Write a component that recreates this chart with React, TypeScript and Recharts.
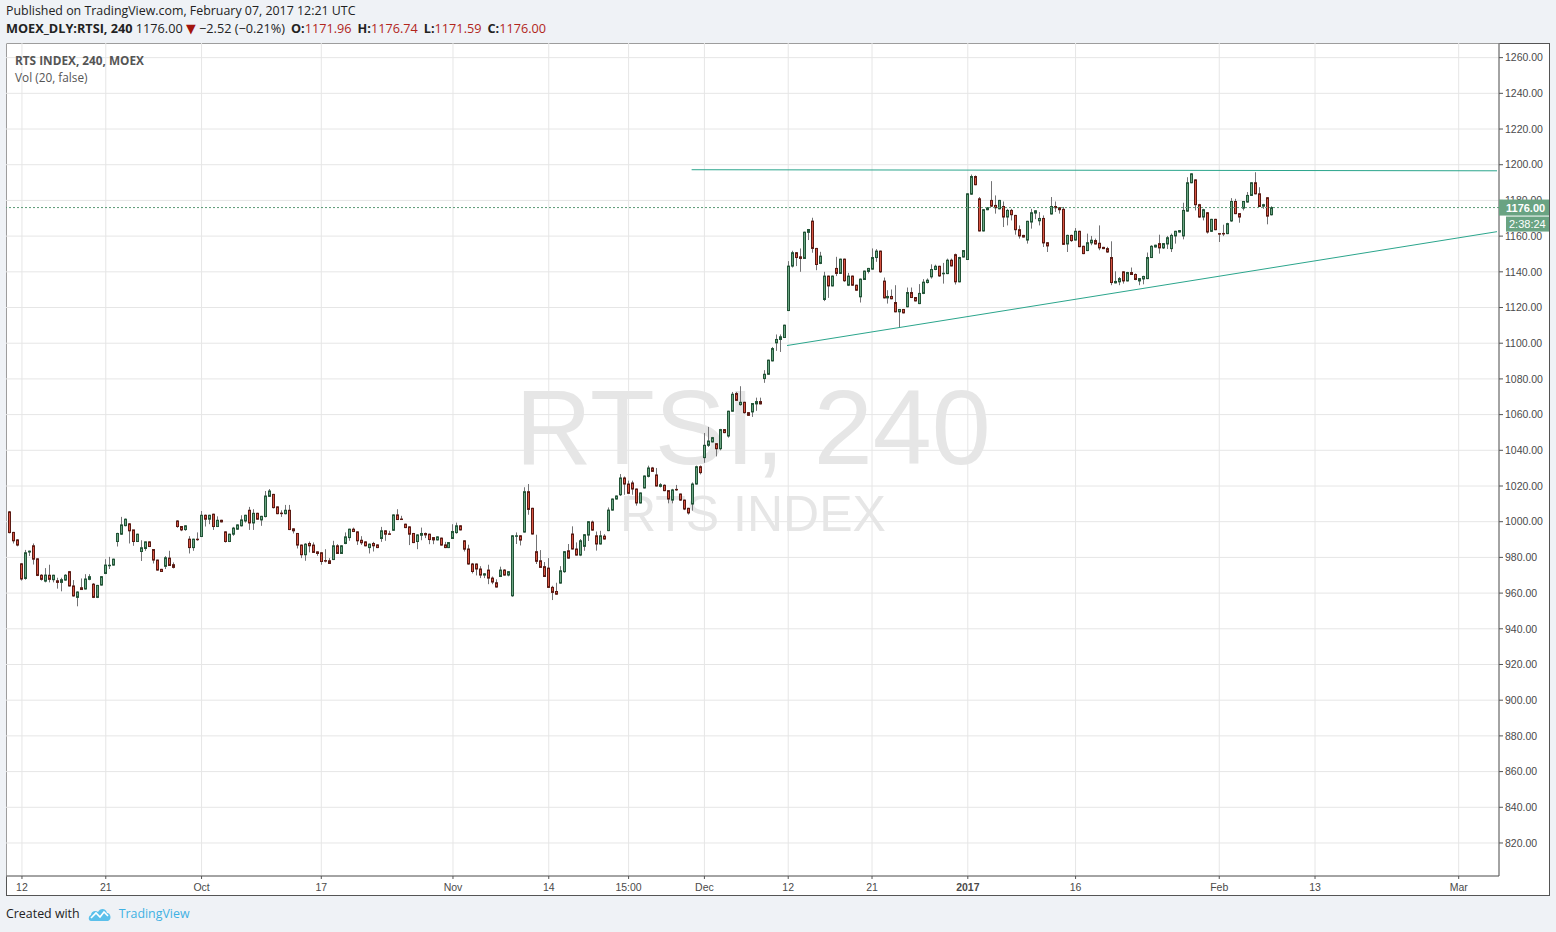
import React from "react";
import {
    ComposedChart,
    Bar,
    XAxis,
    YAxis,
    CartesianGrid,
    ReferenceLine,
} from "recharts";

// 240-minute candles, MOEX RTSI, Sep 2016 - Feb 2017: [open, high, low, close]
const ohlc: [number, number, number, number][] = [
    [1005.5, 1006.0, 993.5, 993.9], [994.0, 994.3, 987.8, 989.3], [989.8, 990.2, 986.2, 986.9], [976.4, 976.8, 967.0, 967.9],
    [968.2, 984.2, 967.5, 982.6], [983.0, 983.8, 980.8, 983.5], [986.5, 987.8, 976.0, 979.0], [979.2, 979.5, 969.5, 969.9],
    [970.0, 970.6, 967.0, 967.7], [966.7, 974.0, 966.0, 970.1], [970.0, 975.9, 966.0, 967.7], [967.5, 970.3, 966.0, 970.0],
    [966.9, 968.6, 962.5, 966.0], [966.0, 968.6, 961.0, 967.5], [967.3, 970.6, 966.9, 970.0], [972.0, 972.4, 963.7, 964.0],
    [964.0, 967.3, 958.0, 958.4], [957.6, 961.0, 952.6, 960.6], [963.0, 968.2, 962.0, 962.0], [962.3, 970.6, 962.0, 967.9],
    [967.7, 970.6, 967.2, 969.2], [965.0, 965.6, 957.2, 957.6], [957.6, 964.6, 957.2, 964.3], [964.5, 969.5, 964.2, 969.2],
    [971.0, 979.0, 970.6, 975.7], [975.4, 980.3, 973.5, 975.6], [975.7, 979.3, 975.4, 979.0], [988.9, 993.8, 986.1, 993.4],
    [993.0, 1002.7, 992.6, 998.2], [997.8, 1001.8, 997.4, 1001.4], [998.8, 999.2, 987.8, 994.9], [995.4, 995.4, 986.5, 988.9],
    [988.9, 993.3, 988.6, 993.0], [983.3, 989.6, 978.0, 985.4], [985.0, 988.9, 983.7, 988.7], [988.7, 989.0, 985.8, 986.1],
    [984.4, 984.7, 976.6, 978.5], [978.5, 978.8, 972.6, 972.9], [973.3, 973.6, 971.8, 972.1], [975.0, 980.7, 973.5, 979.8],
    [979.6, 983.7, 975.2, 975.5], [975.9, 977.2, 973.8, 974.4], [1000.4, 1000.8, 996.6, 997.3], [997.3, 997.6, 994.7, 995.4],
    [995.6, 998.0, 994.9, 997.7], [990.2, 991.9, 982.2, 985.5], [985.5, 990.5, 983.7, 990.2], [990.2, 994.0, 989.3, 990.1],
    [991.7, 1006.0, 991.4, 1003.6], [1003.6, 1004.0, 997.3, 1001.4], [1001.4, 1003.9, 998.6, 1003.6], [1004.2, 1004.5, 995.4, 997.3],
    [997.3, 1003.0, 997.0, 1000.8], [1000.8, 1001.1, 999.6, 999.9], [994.3, 994.6, 988.3, 988.9], [988.9, 993.3, 988.6, 993.0],
    [993.0, 997.1, 992.1, 996.4], [995.8, 998.5, 995.5, 998.2], [997.7, 1003.6, 997.3, 1001.0], [1000.4, 1003.9, 999.5, 1003.6],
    [1006.4, 1008.3, 995.4, 999.3], [999.3, 1007.0, 995.4, 1004.7], [1004.7, 1005.0, 1001.2, 1001.4], [1001.0, 1003.3, 997.7, 1003.0],
    [1002.9, 1017.2, 1002.4, 1014.4], [1014.2, 1018.3, 1013.9, 1017.2], [1015.3, 1015.6, 1007.4, 1007.9], [1008.3, 1008.6, 1004.2, 1004.5],
    [1004.8, 1006.4, 1002.7, 1004.6], [1004.5, 1009.4, 1004.1, 1006.4], [1006.4, 1009.4, 995.3, 995.6], [996.0, 996.3, 993.4, 994.9],
    [993.4, 993.7, 985.0, 986.9], [986.9, 987.2, 979.6, 981.5], [981.5, 988.0, 978.1, 987.4], [987.8, 988.9, 982.8, 986.5],
    [986.9, 988.4, 982.5, 982.8], [983.1, 983.4, 980.9, 982.2], [982.6, 982.9, 975.9, 977.7], [978.2, 984.6, 977.2, 978.1],
    [978.1, 979.6, 976.3, 976.6], [978.8, 989.3, 978.5, 986.5], [986.5, 987.4, 982.0, 982.2], [982.2, 986.8, 981.9, 986.5],
    [987.8, 994.0, 987.4, 991.5], [991.1, 996.1, 989.3, 995.8], [995.8, 996.7, 994.2, 994.5], [994.3, 994.6, 987.0, 989.3],
    [989.6, 991.9, 987.0, 988.2], [988.7, 989.0, 986.2, 986.5], [985.5, 987.8, 982.2, 987.4], [987.8, 988.7, 983.3, 986.5],
    [987.0, 987.3, 985.2, 985.5], [990.6, 997.1, 988.7, 994.9], [994.9, 995.2, 989.3, 993.0], [993.2, 994.9, 992.9, 993.0],
    [995.2, 1004.1, 994.9, 1003.8], [1003.8, 1007.0, 1001.0, 1001.2], [1001.5, 1003.3, 1001.0, 1001.4], [998.6, 998.9, 996.4, 996.7],
    [997.1, 997.4, 986.9, 993.0], [993.4, 993.7, 988.0, 988.3], [988.9, 993.0, 984.6, 992.6], [992.4, 996.7, 989.6, 993.4],
    [993.4, 993.9, 990.8, 992.6], [993.0, 993.3, 987.4, 990.0], [991.1, 991.4, 987.4, 989.8], [989.8, 991.8, 989.5, 991.5],
    [990.8, 991.1, 986.6, 986.9], [987.0, 988.7, 985.2, 985.5], [985.5, 988.6, 985.2, 988.3], [990.6, 998.6, 990.3, 994.5],
    [993.9, 999.5, 993.3, 997.7], [997.7, 998.0, 995.1, 995.4], [989.3, 989.6, 983.3, 984.6], [984.7, 987.1, 975.9, 976.3],
    [976.3, 976.9, 971.0, 972.1], [976.3, 976.6, 969.9, 973.5], [973.5, 975.1, 968.4, 970.1], [970.1, 971.2, 968.4, 970.8],
    [972.9, 975.9, 965.0, 968.4], [968.4, 969.3, 965.0, 966.2], [965.8, 967.7, 963.1, 963.4], [969.3, 974.8, 969.0, 972.9],
    [972.9, 973.4, 969.8, 970.1], [970.1, 972.3, 969.4, 972.0], [958.5, 992.5, 957.9, 992.1], [991.9, 994.0, 987.5, 992.1],
    [992.1, 992.4, 986.7, 989.7], [994.2, 1019.3, 993.9, 1016.8], [1016.8, 1021.1, 1003.9, 1006.9], [1007.5, 1007.8, 992.8, 993.1],
    [983.2, 992.7, 976.3, 977.8], [978.1, 984.1, 974.1, 974.4], [974.8, 977.4, 969.0, 969.3], [974.0, 979.6, 962.9, 963.2],
    [963.2, 964.1, 956.1, 960.4], [960.9, 965.8, 959.1, 959.4], [965.6, 975.1, 965.3, 972.5], [972.0, 983.5, 971.4, 983.2],
    [983.7, 987.5, 979.3, 979.6], [993.1, 997.4, 984.4, 984.7], [984.7, 988.4, 981.0, 981.3], [981.3, 990.3, 980.7, 989.3],
    [986.2, 993.1, 983.7, 992.7], [992.5, 1000.3, 989.2, 1000.0], [999.8, 1000.6, 995.0, 995.3], [992.1, 994.5, 983.8, 987.5],
    [987.5, 994.9, 987.2, 992.1], [991.9, 993.0, 990.0, 990.3], [995.0, 1008.0, 994.7, 1006.5], [1006.5, 1013.0, 1006.2, 1012.7],
    [1012.7, 1014.7, 1012.4, 1014.4], [1015.1, 1026.7, 1014.4, 1024.5], [1024.5, 1025.3, 1015.1, 1021.1], [1021.1, 1023.0, 1015.6, 1015.9],
    [1021.7, 1023.0, 1015.1, 1018.3], [1018.3, 1018.6, 1009.0, 1010.5], [1010.5, 1016.4, 1010.2, 1016.1], [1018.9, 1025.9, 1018.6, 1025.6],
    [1025.4, 1031.4, 1024.8, 1030.1], [1030.1, 1030.7, 1027.9, 1028.2], [1026.2, 1030.1, 1019.7, 1020.0], [1019.8, 1021.6, 1019.2, 1020.7],
    [1020.4, 1020.9, 1017.1, 1017.4], [1017.4, 1017.7, 1010.3, 1012.7], [1012.1, 1018.4, 1010.3, 1017.8], [1018.1, 1020.6, 1017.3, 1017.9],
    [1015.5, 1015.8, 1011.7, 1012.1], [1012.1, 1012.4, 1006.5, 1007.1], [1007.5, 1007.8, 1004.0, 1004.9], [1009.9, 1022.0, 1006.2, 1021.1],
    [1021.1, 1031.4, 1020.8, 1030.8], [1030.8, 1031.5, 1026.5, 1027.5], [1035.9, 1049.7, 1033.0, 1042.8], [1042.8, 1053.1, 1041.9, 1045.2],
    [1044.7, 1047.5, 1044.4, 1047.1], [1043.7, 1044.0, 1036.6, 1040.9], [1040.9, 1052.0, 1040.0, 1051.6], [1051.6, 1051.9, 1049.6, 1049.9],
    [1048.0, 1062.2, 1047.1, 1061.9], [1061.9, 1072.7, 1061.6, 1071.4], [1071.8, 1072.7, 1067.7, 1068.0], [1065.6, 1075.9, 1065.0, 1066.9],
    [1066.9, 1067.2, 1060.6, 1061.1], [1061.1, 1061.4, 1059.3, 1059.6], [1061.5, 1066.5, 1058.7, 1066.2], [1066.0, 1069.5, 1062.1, 1067.3],
    [1067.3, 1069.5, 1065.7, 1066.0], [1080.2, 1084.9, 1077.8, 1082.6], [1082.6, 1090.8, 1082.3, 1090.5], [1090.1, 1097.9, 1089.8, 1097.0],
    [1100.2, 1104.9, 1095.7, 1102.1], [1102.1, 1104.9, 1095.1, 1103.6], [1103.2, 1110.4, 1102.9, 1110.1], [1118.3, 1146.0, 1118.0, 1143.2],
    [1143.2, 1151.8, 1142.4, 1150.7], [1150.7, 1151.0, 1143.2, 1148.0], [1148.4, 1153.1, 1140.0, 1147.5], [1147.5, 1162.5, 1147.2, 1162.2],
    [1162.1, 1164.0, 1157.8, 1163.7], [1168.4, 1170.3, 1150.7, 1153.1], [1153.1, 1153.4, 1140.9, 1144.1], [1144.7, 1151.2, 1144.3, 1148.8],
    [1124.5, 1140.0, 1123.6, 1137.6], [1137.6, 1137.9, 1125.4, 1132.1], [1132.1, 1137.9, 1131.8, 1137.6], [1141.9, 1148.4, 1137.6, 1139.1],
    [1139.1, 1147.4, 1138.8, 1147.1], [1147.1, 1147.4, 1134.4, 1135.0], [1132.5, 1139.4, 1132.0, 1137.6], [1137.6, 1137.9, 1132.2, 1132.5],
    [1132.5, 1132.8, 1129.4, 1129.7], [1126.0, 1136.3, 1122.8, 1135.9], [1135.7, 1140.7, 1135.4, 1140.4], [1140.2, 1142.2, 1139.1, 1141.9],
    [1141.5, 1153.1, 1141.2, 1148.0], [1148.0, 1152.7, 1145.6, 1151.6], [1151.6, 1151.9, 1139.4, 1140.0], [1134.8, 1136.8, 1125.1, 1125.4],
    [1125.4, 1129.7, 1122.2, 1126.2], [1126.2, 1130.1, 1124.6, 1124.9], [1122.8, 1132.5, 1117.3, 1117.6], [1117.6, 1119.2, 1108.6, 1118.9],
    [1118.9, 1119.2, 1116.7, 1117.0], [1120.4, 1131.2, 1120.1, 1128.4], [1128.4, 1131.2, 1125.3, 1125.6], [1125.6, 1125.9, 1123.4, 1123.7],
    [1122.2, 1133.1, 1121.9, 1127.9], [1127.9, 1135.9, 1127.5, 1134.2], [1134.0, 1136.3, 1133.5, 1135.3], [1137.2, 1144.2, 1136.2, 1141.3],
    [1141.3, 1144.0, 1140.9, 1143.1], [1143.1, 1143.4, 1137.2, 1137.7], [1138.9, 1145.0, 1133.4, 1139.2], [1139.0, 1147.4, 1138.7, 1146.5],
    [1146.5, 1147.4, 1143.0, 1143.3], [1149.6, 1150.2, 1132.9, 1134.4], [1134.4, 1148.4, 1134.1, 1148.0], [1148.3, 1152.0, 1148.0, 1151.9],
    [1146.9, 1184.0, 1146.6, 1183.7], [1183.5, 1194.5, 1183.1, 1193.4], [1193.4, 1194.0, 1188.5, 1188.8], [1180.9, 1181.9, 1162.6, 1162.9],
    [1162.9, 1175.1, 1162.6, 1174.8], [1174.8, 1176.2, 1174.5, 1175.9], [1180.0, 1190.8, 1176.3, 1176.8], [1177.2, 1182.8, 1172.6, 1175.9],
    [1175.3, 1180.3, 1175.0, 1180.0], [1176.6, 1179.4, 1165.1, 1170.7], [1170.7, 1175.3, 1166.0, 1174.4], [1174.4, 1175.3, 1168.8, 1172.0],
    [1171.6, 1171.9, 1160.8, 1163.6], [1163.6, 1166.0, 1158.6, 1160.1], [1160.4, 1160.7, 1159.2, 1159.5], [1157.8, 1168.6, 1155.8, 1168.3],
    [1167.9, 1175.3, 1164.2, 1173.1], [1172.9, 1174.5, 1169.5, 1174.2], [1168.6, 1173.5, 1166.0, 1169.9], [1169.9, 1171.6, 1153.9, 1156.2],
    [1156.3, 1156.6, 1151.1, 1154.5], [1172.4, 1181.9, 1172.1, 1176.6], [1176.6, 1179.4, 1173.5, 1175.9], [1175.9, 1176.2, 1172.6, 1174.8],
    [1175.0, 1176.3, 1155.1, 1155.4], [1155.6, 1160.8, 1151.1, 1160.4], [1160.4, 1160.8, 1156.8, 1157.5], [1157.8, 1164.5, 1157.5, 1162.7],
    [1162.7, 1163.0, 1153.8, 1154.1], [1154.3, 1154.6, 1149.9, 1150.2], [1151.9, 1161.4, 1151.6, 1156.3], [1156.2, 1160.1, 1154.9, 1157.7],
    [1157.5, 1158.6, 1155.3, 1155.6], [1156.0, 1166.0, 1152.1, 1153.4], [1153.7, 1154.0, 1152.7, 1153.0], [1153.0, 1154.0, 1150.7, 1151.1],
    [1148.0, 1157.1, 1132.5, 1134.0], [1133.8, 1140.3, 1133.5, 1134.6], [1134.4, 1137.1, 1132.5, 1136.2], [1140.0, 1140.3, 1133.4, 1134.9],
    [1134.9, 1140.0, 1134.6, 1139.6], [1139.6, 1142.4, 1138.2, 1138.5], [1138.5, 1139.1, 1135.3, 1135.7], [1134.9, 1136.5, 1132.5, 1136.2],
    [1136.0, 1137.8, 1133.0, 1137.4], [1136.2, 1150.8, 1135.9, 1148.0], [1148.0, 1154.9, 1147.7, 1154.3], [1153.9, 1155.2, 1153.6, 1154.9],
    [1155.8, 1160.8, 1150.2, 1153.4], [1153.4, 1156.1, 1152.8, 1155.8], [1155.6, 1160.1, 1152.8, 1159.1], [1153.0, 1161.4, 1151.1, 1160.4],
    [1160.1, 1163.0, 1155.8, 1162.7], [1162.3, 1163.4, 1162.0, 1163.1], [1160.1, 1178.7, 1158.2, 1174.4], [1174.0, 1193.0, 1173.7, 1189.9],
    [1189.9, 1195.2, 1189.6, 1194.9], [1191.5, 1191.8, 1174.4, 1177.6], [1177.6, 1178.1, 1170.2, 1170.7], [1170.7, 1175.3, 1168.8, 1174.8],
    [1173.1, 1173.5, 1161.4, 1162.3], [1162.7, 1169.7, 1162.3, 1169.4], [1169.4, 1169.7, 1163.3, 1163.6], [1161.4, 1161.6, 1156.7, 1161.3],
    [1161.5, 1166.4, 1160.0, 1161.4], [1161.4, 1167.5, 1161.1, 1167.0], [1168.5, 1181.3, 1168.0, 1179.4], [1179.4, 1180.9, 1172.3, 1172.6],
    [1172.6, 1172.9, 1167.5, 1170.7], [1175.7, 1179.7, 1174.4, 1179.4], [1179.1, 1184.7, 1178.8, 1182.8], [1182.8, 1190.2, 1182.5, 1189.9],
    [1189.9, 1195.8, 1183.4, 1183.7], [1183.7, 1187.4, 1176.3, 1176.6], [1176.8, 1178.1, 1175.3, 1177.6], [1181.5, 1181.8, 1166.6, 1171.2],
    [1171.96, 1176.74, 1171.59, 1176.0],
];

// time axis labels sit on bar indexes
const xTickIndex = [3, 24, 48, 78, 111, 135, 155, 174, 195, 216, 240, 267, 303, 327, 363];
const xTickLabels = ["12", "21", "Oct", "17", "Nov", "14", "15:00", "Dec", "12", "21", "2017", "16", "Feb", "13", "Mar"];
const yTicks = [820, 840, 860, 880, 900, 920, 940, 960, 980, 1000, 1020, 1040, 1060, 1080, 1100, 1120, 1140, 1160, 1180, 1200, 1220, 1240, 1260];

// drawn lines: [bar index, price]
const resistance = [[170.8, 1197.2], [372.6, 1196.6]];
const support = [[194.7, 1098.7], [372.6, 1162.5]];
const lastPrice = 1176.0;
const countdown = "2:38:24";

const data = ohlc.map(([o, h, l, c], i) => ({ i, o, h, l, c, range: [l, h] }));

const X_DOMAIN = [-1, 373.1];
const Y_DOMAIN = [801.5, 1268.2];
const CHART_W = 1544;
const CHART_H = 853;

const UP_FILL = "#6ba583";
const UP_LINE = "#225437";
const DOWN_FILL = "#d75442";
const DOWN_LINE = "#5b1a13";
const WICK = "#737375";
const TREND = "#2ba58c";
const TAG = "#69a382";
const AXIS_FONT = "'Liberation Sans', Arial, sans-serif";
const UI_FONT = "'Open Sans', 'DejaVu Sans', sans-serif";
const RED = "#b2251b";

function Candle(props: any) {
    const { x, y, width, height, payload } = props;
    if (x == null || y == null) return null;
    const { o, h, l, c } = payload;
    const top = Math.min(y, y + height);
    const span = Math.abs(height);
    const cx = Math.round(x + width / 2) + 0.5;
    const toPx = (v: number) => (h === l ? top : top + ((h - v) / (h - l)) * span);
    const up = c >= o;
    const bodyTop = toPx(Math.max(o, c));
    const bodyBot = toPx(Math.min(o, c));
    return (
        <g>
            <line x1={cx} x2={cx} y1={top} y2={top + span} stroke={WICK} strokeWidth={1} />
            <rect
                x={cx - 1}
                y={bodyTop}
                width={2}
                height={Math.max(bodyBot - bodyTop, 0.5)}
                fill={up ? UP_FILL : DOWN_FILL}
                stroke={up ? UP_LINE : DOWN_LINE}
                strokeWidth={1}
            />
        </g>
    );
}

function XTick(props: any) {
    const { x, y, payload } = props;
    const label = xTickLabels[xTickIndex.indexOf(payload.value)];
    return (
        <text
            x={x}
            y={y}
            dy={10}
            textAnchor="middle"
            fontSize={10.5}
            fontFamily={AXIS_FONT}
            fill="#4a4a4a"
            fontWeight={label === "2017" ? "bold" : "normal"}
        >
            {label}
        </text>
    );
}

function PriceTag(props: any) {
    const vb = props.viewBox;
    if (!vb) return null;
    const left = vb.x + vb.width;
    return (
        <g>
            <rect x={left} y={vb.y - 8} width={50} height={16} fill={TAG} />
            <text x={left + 7} y={vb.y + 4} fontSize={11} fontWeight="bold" fill="#fff" fontFamily={AXIS_FONT}>
                {lastPrice.toFixed(2)}
            </text>
            <rect x={left + 7} y={vb.y + 9} width={43} height={15} fill={TAG} />
            <text x={left + 10} y={vb.y + 20.5} fontSize={11} fill="#fff" fontFamily={AXIS_FONT}>
                {countdown}
            </text>
        </g>
    );
}

function Logo() {
    return (
        <svg width={24} height={16} viewBox="0 0 24 16">
            <path
                d="M3 15 C0 15 0 10 3 9 C3 5 8 4 10 6 C12 2 18 2 19 7 C23 7 24 14 20 15 Z"
                fill="#5bc0eb"
            />
            <polyline points="3,12 8,7 12,11 16,6 20,10" fill="none" stroke="#fff" strokeWidth={1.6} />
        </svg>
    );
}

export default function App() {
    return (
        <div
            style={{
                position: "absolute",
                left: 0,
                top: 0,
                width: 1556,
                height: 932,
                background: "#eff2f6",
                fontFamily: UI_FONT,
                color: "#222",
                overflow: "hidden",
            }}
        >
            {/* header */}
            <div style={{ position: "absolute", left: 6, top: 2, fontSize: 12.4, whiteSpace: "nowrap" }}>
                Published on TradingView.com, February 07, 2017 12:21 UTC
            </div>
            <div style={{ position: "absolute", left: 6, top: 19, fontSize: 12.7, whiteSpace: "nowrap" }}>
                <b>MOEX_DLY:RTSI, 240</b> 1176.00 <span style={{ color: "#a3150e" }}>▼</span> −2.52 (−0.21%)
                <b style={{ marginLeft: 6 }}>O:</b>
                <span style={{ color: RED }}>1171.96</span>
                <b style={{ marginLeft: 6 }}>H:</b>
                <span style={{ color: RED }}>1176.74</span>
                <b style={{ marginLeft: 6 }}>L:</b>
                <span style={{ color: RED }}>1171.59</span>
                <b style={{ marginLeft: 6 }}>C:</b>
                <span style={{ color: RED }}>1176.00</span>
            </div>

            {/* chart panel */}
            <div
                style={{
                    position: "absolute",
                    left: 6,
                    top: 43,
                    width: CHART_W,
                    height: CHART_H,
                    boxSizing: "border-box",
                    border: "1px solid #555",
                    background: "#fff",
                }}
            />
            <svg style={{ position: "absolute", left: 0, top: 0 }} width={1556} height={932}>
                <text x={753} y={464} textAnchor="middle" fontSize={106} fontFamily={AXIS_FONT} fill="#e6e6e6">
                    RTSI, 240
                </text>
                <text x={753} y={531} textAnchor="middle" fontSize={50} fontFamily={AXIS_FONT} fill="#e6e6e6">
                    RTS INDEX
                </text>
            </svg>
            <div style={{ position: "absolute", left: 6, top: 43 }}>
                <ComposedChart
                    width={CHART_W}
                    height={CHART_H}
                    data={data}
                    margin={{ top: 0, right: 0, bottom: 0, left: 0 }}
                >
                    <CartesianGrid stroke="#e6e6e6" />
                    <XAxis
                        dataKey="i"
                        type="number"
                        domain={X_DOMAIN}
                        allowDataOverflow
                        ticks={xTickIndex}
                        tick={<XTick />}
                        height={20}
                        tickSize={3}
                        tickMargin={2}
                        axisLine={{ stroke: "#555" }}
                        tickLine={{ stroke: "#555" }}
                    />
                    <YAxis
                        orientation="right"
                        type="number"
                        domain={Y_DOMAIN}
                        allowDataOverflow
                        ticks={yTicks}
                        width={51}
                        tickSize={4}
                        tickMargin={2}
                        tickFormatter={(v: number) => v.toFixed(2)}
                        tick={{ fontSize: 10.5, fill: "#4a4a4a", fontFamily: AXIS_FONT }}
                        axisLine={{ stroke: "#555" }}
                        tickLine={{ stroke: "#555" }}
                    />
                    <Bar dataKey="range" shape={<Candle />} barSize={3} isAnimationActive={false} />
                    <ReferenceLine
                        segment={resistance.map(([i, v]) => ({ x: i, y: v }))}
                        stroke={TREND}
                        strokeWidth={1}
                    />
                    <ReferenceLine
                        segment={support.map(([i, v]) => ({ x: i, y: v }))}
                        stroke={TREND}
                        strokeWidth={1}
                    />
                </ComposedChart>
            </div>

            {/* overlay with same scales: last price line and its axis tag above the axis labels */}
            <div style={{ position: "absolute", left: 6, top: 43, pointerEvents: "none" }}>
                <ComposedChart
                    width={CHART_W}
                    height={CHART_H}
                    data={data}
                    margin={{ top: 0, right: 0, bottom: 0, left: 0 }}
                >
                    <XAxis
                        dataKey="i"
                        type="number"
                        domain={X_DOMAIN}
                        allowDataOverflow
                        height={20}
                        tick={false}
                        axisLine={false}
                        tickLine={false}
                    />
                    <YAxis
                        orientation="right"
                        type="number"
                        domain={Y_DOMAIN}
                        allowDataOverflow
                        width={51}
                        tick={false}
                        axisLine={false}
                        tickLine={false}
                    />
                    <ReferenceLine
                        y={lastPrice}
                        stroke="#5a9a76"
                        strokeDasharray="2 2"
                        label={<PriceTag />}
                    />
                </ComposedChart>
            </div>

            {/* legend in the pane */}
            <div style={{ position: "absolute", left: 15, top: 52, fontSize: 11.8, color: "#555", fontWeight: "bold" }}>
                RTS INDEX, 240, MOEX
            </div>
            <div style={{ position: "absolute", left: 15, top: 69, fontSize: 11.8, color: "#555" }}>
                Vol (20, false)
            </div>

            {/* footer */}
            <div
                style={{
                    position: "absolute",
                    left: 6,
                    top: 905,
                    fontSize: 12.4,
                    display: "flex",
                    alignItems: "center",
                    whiteSpace: "nowrap",
                }}
            >
                <span>Created with</span>
                <span style={{ marginLeft: 8, marginRight: 7, display: "flex" }}>
                    <Logo />
                </span>
                <span style={{ color: "#3fb1e3" }}>TradingView</span>
            </div>
        </div>
    );
}
